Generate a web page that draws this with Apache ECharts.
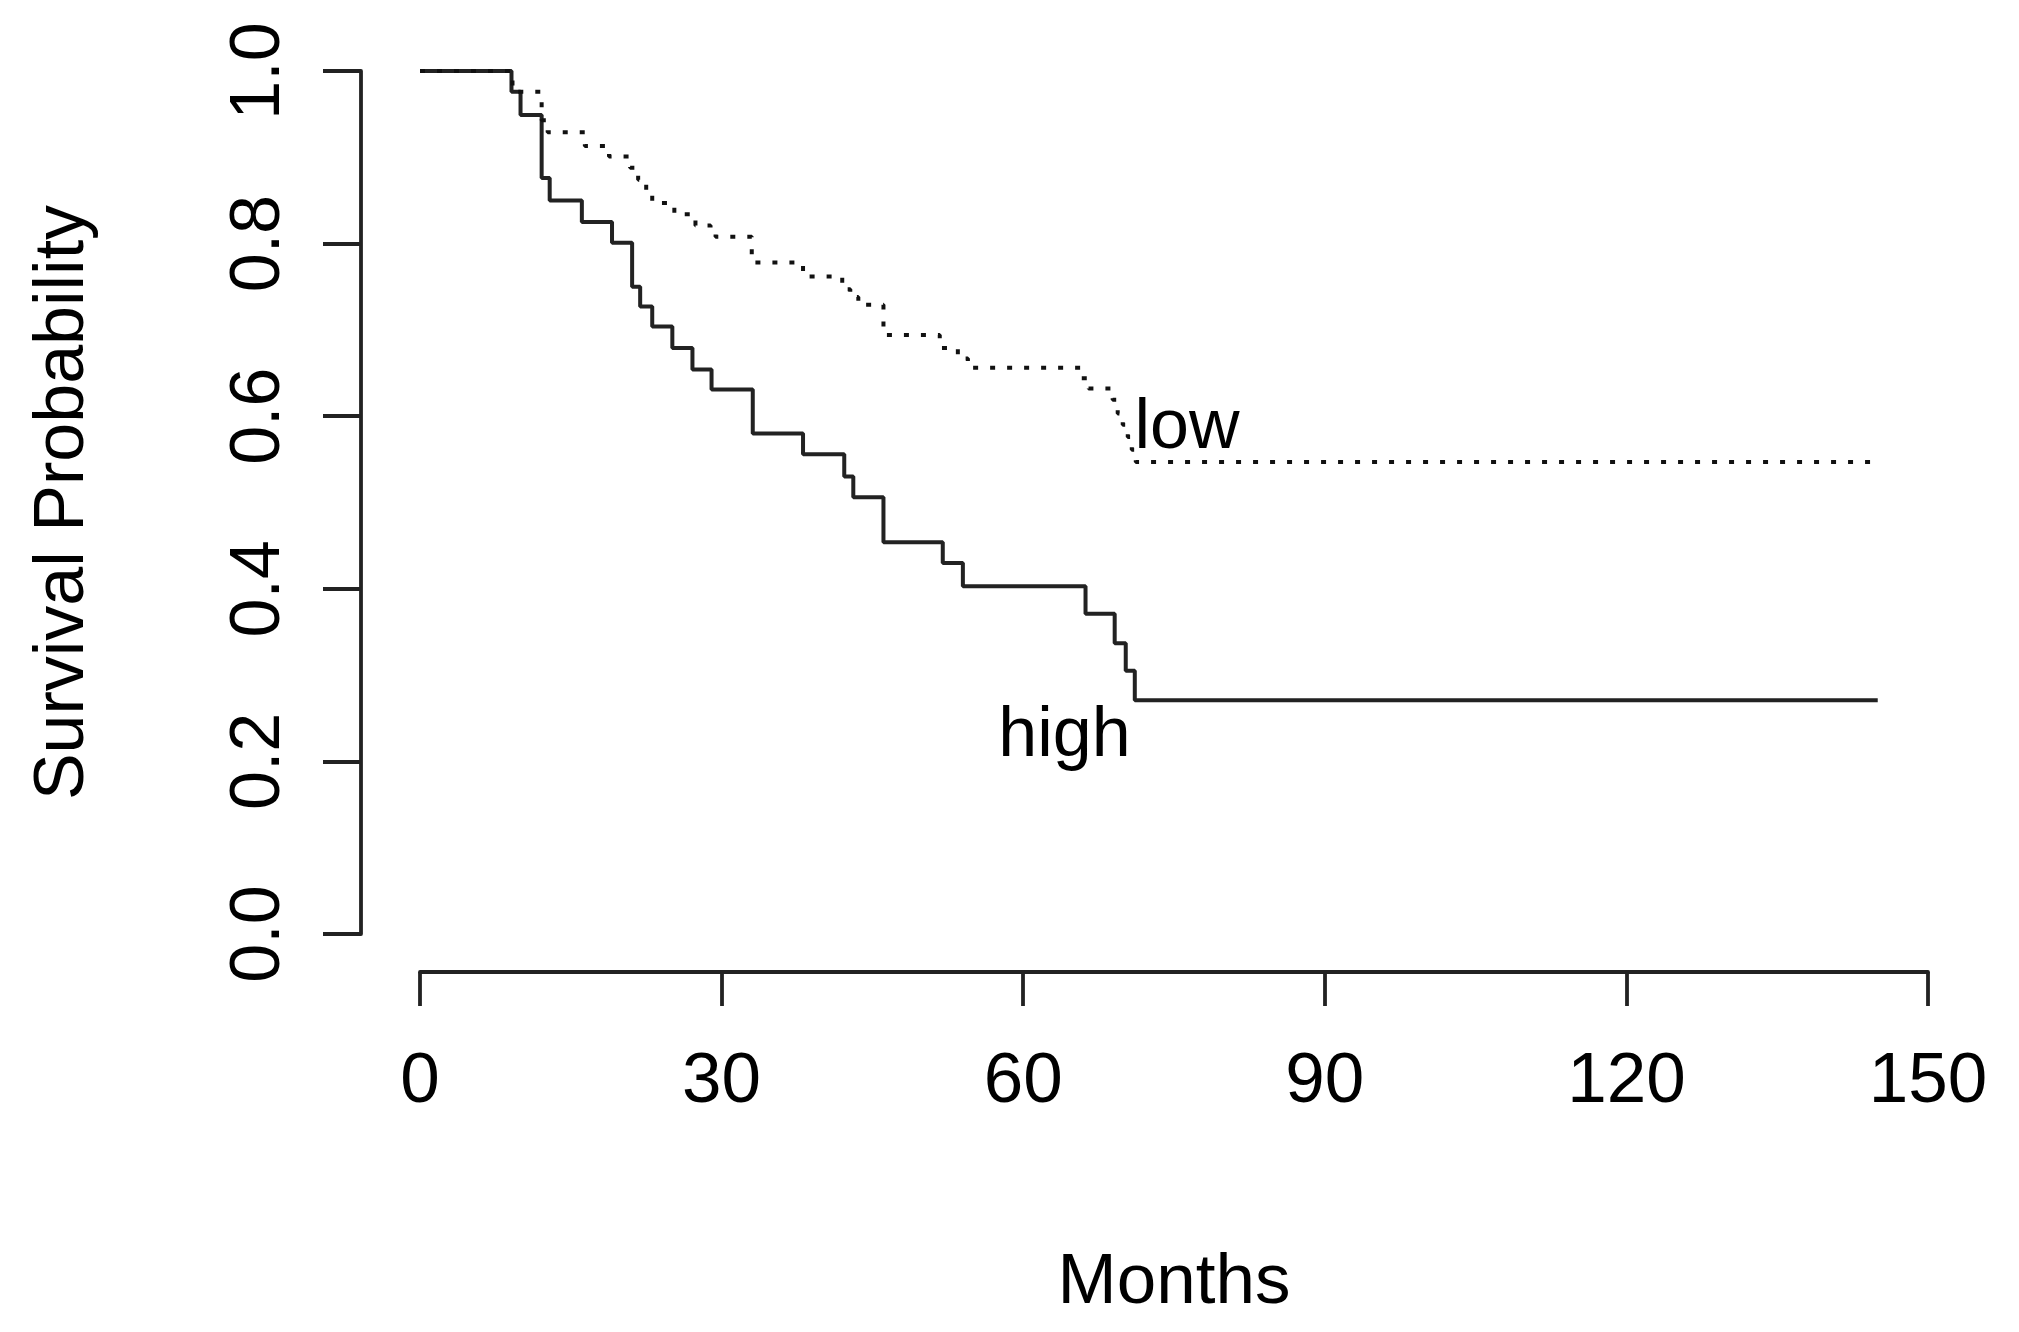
<!DOCTYPE html>
<html><head><meta charset="utf-8">
<script src="https://cdn.jsdelivr.net/npm/echarts@6/dist/echarts.min.js"></script>
<style>html,body{margin:0;padding:0;background:#fff}#c{width:2019px;height:1332px}</style>
</head><body><div id="c"></div>
<script>
// Kaplan-Meier curves (time in months, survival probability after the event)
const highTimes = [0, 9.1, 10.0, 12.1, 12.9, 16.1, 19.1, 21.1, 21.9, 23.1, 25.1, 27.1, 29.0, 33.1, 38.1, 42.2, 43.1, 46.1, 52.0, 54.0, 66.2, 69.1, 70.2, 71.1, 145];
const highSurv  = [1, 0.976, 0.949, 0.876, 0.850, 0.825, 0.801, 0.750, 0.727, 0.704, 0.679, 0.654, 0.631, 0.580, 0.556, 0.530, 0.506, 0.454, 0.430, 0.403, 0.371, 0.337, 0.305, 0.271, 0.271];
const lowTimes  = [0, 9.2, 12.1, 12.7, 16.4, 18.8, 20.9, 21.7, 22.5, 23.1, 25.3, 27.4, 28.9, 29.4, 33.0, 38.1, 42.0, 42.8, 43.6, 46.1, 51.7, 53.5, 54.5, 65.8, 66.5, 68.9, 69.4, 69.9, 70.4, 70.8, 71.2, 145];
const lowSurv   = [1, 0.976, 0.943, 0.929, 0.913, 0.901, 0.888, 0.874, 0.862, 0.847, 0.834, 0.821, 0.813, 0.808, 0.778, 0.762, 0.747, 0.738, 0.729, 0.694, 0.679, 0.667, 0.656, 0.644, 0.632, 0.619, 0.603, 0.590, 0.576, 0.561, 0.547, 0.547];
const groupNames = ['high', 'low'];
const groupLabelPos = [[64.1, 0.229], [76.3, 0.585]];
const xTicks = [0, 30, 60, 90, 120, 150];
const yTicks = [0, 0.2, 0.4, 0.6, 0.8, 1.0];
const xTitle = 'Months';
const yTitle = 'Survival Probability';

const FONT = '"Liberation Sans", Arial, sans-serif';
const pairs = (t, s) => t.map((v, i) => [v, s[i]]);

const chart = echarts.init(document.getElementById('c'), null, {renderer: 'canvas'});
chart.setOption({
  animation: false,
  backgroundColor: '#ffffff',
  grid: {left: 420, right: 91, top: 71, bottom: 398, containLabel: false},
  xAxis: {
    type: 'value', min: xTicks[0], max: xTicks[xTicks.length - 1], interval: 30,
    offset: 38,
    axisLine: {show: true, onZero: false, lineStyle: {color: '#222', width: 3.8}},
    axisTick: {show: true, length: 34, lineStyle: {color: '#222', width: 3.8}},
    splitLine: {show: false},
    axisLabel: {fontSize: 71, color: '#000', fontFamily: FONT, margin: 75},
    name: xTitle, nameLocation: 'middle', nameGap: 276,
    nameTextStyle: {fontSize: 71, color: '#000', fontFamily: FONT}
  },
  yAxis: {
    type: 'value', min: yTicks[0], max: yTicks[yTicks.length - 1], interval: 0.2,
    offset: 59,
    axisLine: {show: true, onZero: false, lineStyle: {color: '#222', width: 3.8}},
    axisTick: {show: true, length: 38, lineStyle: {color: '#222', width: 3.8}},
    splitLine: {show: false},
    axisLabel: {fontSize: 70, color: '#000', fontFamily: FONT, rotate: 90, margin: 66,
      formatter: v => v.toFixed(1)},
    name: yTitle, nameLocation: 'middle', nameGap: 262, nameRotate: 90,
    nameTextStyle: {fontSize: 70, color: '#000', fontFamily: FONT}
  },
  series: [
    {
      type: 'line', name: groupNames[0], step: 'end', showSymbol: false, symbol: 'none',
      data: pairs(highTimes, highSurv),
      lineStyle: {color: '#222', width: 4, type: 'solid'}
    },
    {
      type: 'line', name: groupNames[1], step: 'end', showSymbol: false, symbol: 'none',
      data: pairs(lowTimes, lowSurv),
      lineStyle: {color: '#111', width: 4, type: [5, 12]}
    },
    {
      type: 'scatter', symbolSize: 0, silent: true,
      itemStyle: {opacity: 1},
      data: groupLabelPos.map((p, i) => ({value: p, name: groupNames[i]})),
      label: {show: true, position: 'inside', formatter: p => p.name, opacity: 1,
        textBorderWidth: 0, fontSize: 70, color: '#000', fontFamily: FONT,
        align: 'center', verticalAlign: 'middle'}
    }
  ]
});
</script></body></html>
